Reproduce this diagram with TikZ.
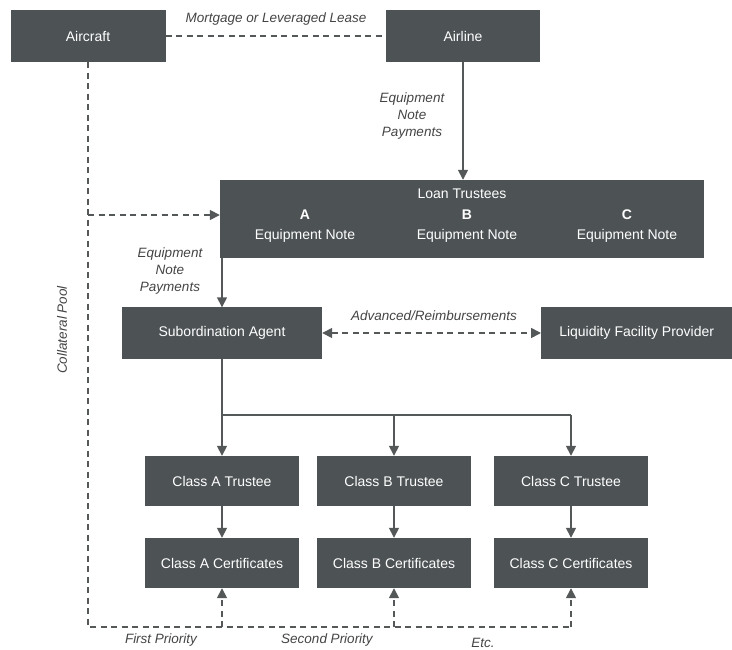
\documentclass[tikz,border=0pt]{standalone}
\usepackage{fontspec}
\setmainfont{Liberation Sans}
\usetikzlibrary{arrows.meta}
\definecolor{boxgray}{HTML}{4D5254}
\definecolor{linegray}{HTML}{555859}
\definecolor{labgray}{HTML}{444444}
\tikzset{
  box/.style={fill=boxgray, draw=none, text=white, inner sep=0pt, align=center, font=\fontsize{14}{17}\selectfont},
  tip/.style={},
  solidarrow/.style={draw=linegray, line width=1.6pt, -{Triangle[length=10pt,width=10pt]}},
  dasharrow/.style={draw=linegray, line width=1.6pt, dash pattern=on 6pt off 4.5pt},
  lab/.style={text=labgray, font=\fontsize{13.5}{17}\selectfont\itshape, align=center, inner sep=0pt}
}
\begin{document}
\begin{tikzpicture}[x=1pt,y=-1pt]
\useasboundingbox (0,0) rectangle (732,650);
% nodes
\node[box, minimum width=155pt, minimum height=52pt] (aircraft) at (88,36) {Aircraft};
\node[box, minimum width=154pt, minimum height=52pt] (airline) at (463,36) {Airline};
\node[box, minimum width=484pt, minimum height=78pt] (loan) at (462,219) {};
\node[box] (lt) at (462,194) {Loan Trustees};
\node[box] (lta) at (305,226) {\textbf{A}\\[3pt]Equipment Note};
\node[box] (ltb) at (467,226) {\textbf{B}\\[3pt]Equipment Note};
\node[box] (ltc) at (627,226) {\textbf{C}\\[3pt]Equipment Note};
\node[box, minimum width=200pt, minimum height=51pt] (sub) at (222,333) {Subordination Agent};
\node[box, minimum width=191pt, minimum height=51pt, anchor=west] (liq) at (541,333) {Liquidity Facility Provider};
\node[box, minimum width=154pt, minimum height=50pt] (ta) at (222,481) {Class A Trustee};
\node[box, minimum width=154pt, minimum height=50pt] (tb) at (394,481) {Class B Trustee};
\node[box, minimum width=154pt, minimum height=50pt] (tc) at (571,481) {Class C Trustee};
\node[box, minimum width=154pt, minimum height=50pt] (ca) at (222,563) {Class A Certificates};
\node[box, minimum width=154pt, minimum height=50pt] (cb) at (394,563) {Class B Certificates};
\node[box, minimum width=154pt, minimum height=50pt] (cc) at (571,563) {Class C Certificates};
% coordinates
\coordinate (poolcorner) at (88,627);
\coordinate (pooljoin) at (88,215);
\coordinate (branch) at (222,415);
% connectors
\draw[dasharrow] (aircraft.east) -- (airline.west);
\draw[solidarrow] (airline.south) -- (airline.south |- loan.north);
\draw[solidarrow] (sub.north |- loan.south) -- (sub.north);
\draw[dasharrow, {Triangle[length=10pt,width=10pt]}-{Triangle[length=10pt,width=10pt]}] (sub.east) -- (liq.west);
\draw[dasharrow] (aircraft.south) -- (poolcorner) -- (poolcorner -| cc.south);
\draw[dasharrow, -{Triangle[length=10pt,width=10pt]}] (pooljoin) -- (pooljoin -| loan.west);
\draw[dasharrow, -{Triangle[length=10pt,width=10pt]}] (poolcorner -| ca.south) -- (ca.south);
\draw[dasharrow, -{Triangle[length=10pt,width=10pt]}] (poolcorner -| cb.south) -- (cb.south);
\draw[dasharrow, -{Triangle[length=10pt,width=10pt]}] (poolcorner -| cc.south) -- (cc.south);
\draw[draw=linegray, line width=1.6pt] (sub.south) -- (branch) -- (branch -| tc.north);
\draw[solidarrow] (branch) -- (ta.north);
\draw[solidarrow] (branch -| tb.north) -- (tb.north);
\draw[solidarrow] (branch -| tc.north) -- (tc.north);
\draw[solidarrow] (ta.south) -- (ca.north);
\draw[solidarrow] (tb.south) -- (cb.north);
\draw[solidarrow] (tc.south) -- (cc.north);
% labels
\node[lab] (l1) at (276,19) {Mortgage or Leveraged Lease};
\node[lab] (l2) at (412,116) {Equipment\\Note\\Payments};
\node[lab] (l3) at (170,271) {Equipment\\Note\\Payments};
\node[lab] (l4) at (434,316) {Advanced/Reimbursements};
\node[lab, rotate=90] (l5) at (62,330) {Collateral Pool};
\node[lab] (l6) at (161,640) {First Priority};
\node[lab] (l7) at (327,640) {Second Priority};
\node[lab] (l8) at (483,643) {Etc.};
\end{tikzpicture}
\end{document}
